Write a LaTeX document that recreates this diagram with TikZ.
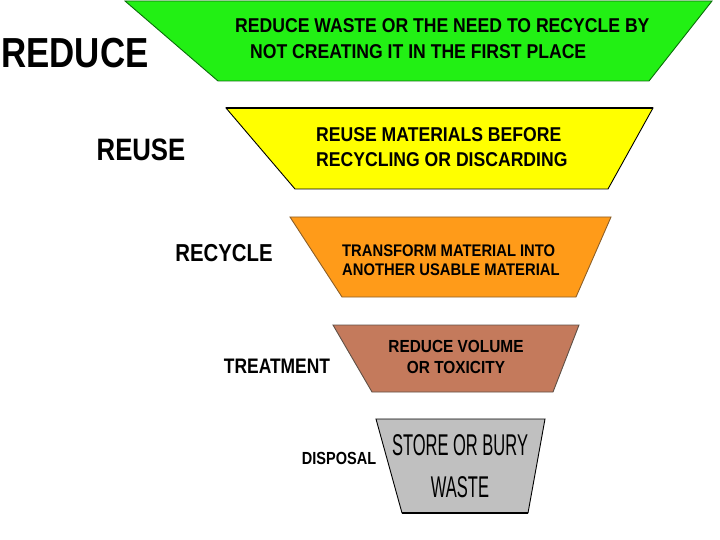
\documentclass[tikz,border=0pt]{standalone}
\usepackage{fontspec}
\setmainfont{Liberation Sans}
\newfontfamily\labelfont[FakeStretch=0.83]{Liberation Sans}
\newfontfamily\boxfont[FakeStretch=0.88]{Liberation Sans}
\newfontfamily\handfont[FakeStretch=0.55]{Liberation Sans}
\definecolor{greenfill}{RGB}{34,240,20}
\definecolor{greenline}{RGB}{10,110,10}
\definecolor{yellowfill}{RGB}{255,255,0}
\definecolor{orangefill}{RGB}{255,155,25}
\definecolor{orangeline}{RGB}{140,95,40}
\definecolor{brownfill}{RGB}{196,122,92}
\definecolor{brownline}{RGB}{95,80,70}
\definecolor{grayfill}{RGB}{192,192,192}
\tikzset{
  level/.style={line width=0.9pt},
  sidelabel/.style={inner sep=0pt, font=\labelfont\bfseries},
  boxtext/.style={inner sep=0pt, font=\boxfont\bfseries},
}
\begin{document}
\begin{tikzpicture}[x=1pt,y=-1pt]
 \useasboundingbox (0,0) rectangle (720,540);
 % the five levels, wide at the top
 \draw[level,draw=greenline,fill=greenfill](125,1)--(712,1)--(649,81)--(218,81)--cycle;
 \draw[level,draw=black,fill=yellowfill](226,108)--(653,108)--(608,189)--(295,189)--cycle;
 \draw[level,draw=orangeline,fill=orangefill](290,217)--(611,217)--(576,297)--(342,297)--cycle;
 \draw[level,draw=brownline,fill=brownfill](333,325)--(579,325)--(553,392)--(372,392)--cycle;
 \draw[level,draw=black,fill=grayfill](376,419)--(545,419)--(528,513)--(402,513)--cycle;
 \draw[line width=1.4pt](226,108)--(653,108);
 \draw[line width=1.4pt](402,513)--(528,513);
 % names on the left
 \node[sidelabel,font=\labelfont\bfseries\fontsize{42}{42}\selectfont] (reduce) at (75,53) {REDUCE};
 \node[sidelabel,font=\labelfont\bfseries\fontsize{31}{31}\selectfont] (reuse) at (141,149.5) {REUSE};
 \node[sidelabel,font=\labelfont\bfseries\fontsize{24.5}{24.5}\selectfont] (recycle) at (224,252.6) {RECYCLE};
 \node[sidelabel,font=\labelfont\bfseries\fontsize{21}{21}\selectfont] (treatment) at (277,366) {TREATMENT};
 \node[sidelabel,font=\labelfont\bfseries\fontsize{17.5}{17.5}\selectfont] (disposal) at (339,458.5) {DISPOSAL};
 % texts in the levels
 \node[boxtext,anchor=west,font=\boxfont\bfseries\fontsize{20}{20}\selectfont] (reducetxta) at (235,26) {REDUCE WASTE OR THE NEED TO RECYCLE BY};
 \node[boxtext,anchor=west,font=\boxfont\bfseries\fontsize{20}{20}\selectfont] (reducetxtb) at (250,52) {NOT CREATING IT IN THE FIRST PLACE};
 \node[boxtext,anchor=west,align=left,font=\boxfont\bfseries\fontsize{20}{25}\selectfont] (reusetxt) at (316,147.5) {REUSE MATERIALS BEFORE\\RECYCLING OR DISCARDING};
 \node[boxtext,anchor=west,align=left,font=\boxfont\bfseries\fontsize{16.8}{19}\selectfont] (recycletxt) at (342,260.5) {TRANSFORM MATERIAL INTO\\ANOTHER USABLE MATERIAL};
 \node[boxtext,align=center,font=\boxfont\bfseries\fontsize{17.5}{21.5}\selectfont] (treatmenttxt) at (456,357) {REDUCE VOLUME\\OR TOXICITY};
 \node[inner sep=0pt,align=center,font=\handfont\fontsize{30}{42}\selectfont] (disposaltxt) at (460,466) {STORE OR BURY\\WASTE};
\end{tikzpicture}
\end{document}
